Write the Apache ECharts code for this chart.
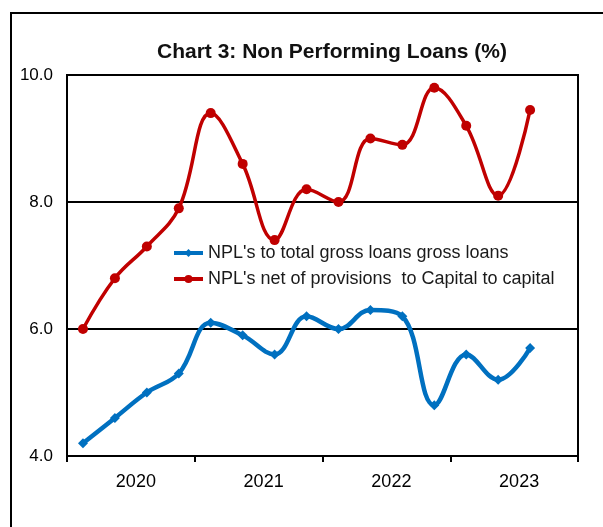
<!DOCTYPE html>
<html>
<head>
<meta charset="utf-8">
<script src="https://cdn.jsdelivr.net/npm/echarts@6/dist/echarts.min.js"></script>
<style>html,body{margin:0;padding:0;background:#fff}#c{width:603px;height:527px}</style>
</head>
<body>
<div id="c"></div>
<script>
var quarters = ['Q4-19','Q1-20','Q2-20','Q3-20','Q4-20','Q1-21','Q2-21','Q3-21','Q4-21','Q1-22','Q2-22','Q3-22','Q4-22','Q1-23','Q2-23','Q3-23'];
var years = ['2020','2021','2022','2023'];
var yTicks = [4, 6, 8, 10];
var grossNPL = [4.2, 4.6, 5.0, 5.3, 6.1, 5.9, 5.6, 6.2, 6.0, 6.3, 6.2, 4.8, 5.6, 5.2, 5.7];
var netNPL = [6.0, 6.8, 7.3, 7.9, 9.4, 8.6, 7.4, 8.2, 8.0, 9.0, 8.9, 9.8, 9.2, 8.1, 9.45];
var seriesNames = ["NPL's to total gross loans gross loans", "NPL's net of provisions  to Capital to capital"];

var chart = echarts.init(document.getElementById('c'), null, {renderer: 'canvas'});
chart.setOption({
  animation: false,
  backgroundColor: '#fff',
  textStyle: {fontFamily: 'Liberation Sans, Arial, sans-serif'},
  title: {
    text: 'Chart 3: Non Performing Loans (%)',
    left: 327, top: 37, textAlign: 'center',
    textStyle: {fontSize: 21, fontWeight: 'bold', color: '#111', fontFamily: 'Liberation Sans, Arial, sans-serif'}
  },
  graphic: [{
    type: 'rect', shape: {x: 11, y: 13, width: 700, height: 600},
    style: {fill: 'none', stroke: '#000', lineWidth: 2}, z: 0
  }],
  legend: {
    orient: 'vertical', left: 167, top: 239,
    itemWidth: 29, itemHeight: 10, itemGap: 8,
    lineStyle: {width: 4},
    textStyle: {fontSize: 18, color: '#1a1a1a'},
    data: seriesNames
  },
  grid: {left: 67, top: 75, right: 25, bottom: 71, show: true, borderColor: '#000', borderWidth: 2, backgroundColor: 'transparent'},
  xAxis: [{
    type: 'category', data: quarters, boundaryGap: true, show: false
  }, {
    type: 'category', data: years, boundaryGap: true, position: 'bottom',
    axisLine: {show: true, lineStyle: {color: '#000', width: 2}},
    axisTick: {show: true, length: 6, interval: 0, lineStyle: {color: '#000', width: 2}},
    axisLabel: {fontSize: 18, color: '#000', margin: 17, padding: [0, 0, 0, 10]}
  }],
  yAxis: {
    type: 'value', min: yTicks[0], max: yTicks[yTicks.length - 1], interval: 2,
    axisLine: {show: true, lineStyle: {color: '#000', width: 2}},
    axisTick: {show: false},
    splitLine: {show: true, lineStyle: {color: '#000', width: 2}},
    axisLabel: {fontSize: 17, color: '#000', margin: 14, formatter: function (v) { return v.toFixed(1); }}
  },
  series: [{
    name: seriesNames[0], type: 'line', xAxisIndex: 0, data: grossNPL,
    smooth: 0.4, symbol: 'diamond', symbolSize: 10,
    lineStyle: {color: '#0070C0', width: 4.5},
    itemStyle: {color: '#0070C0'}
  }, {
    name: seriesNames[1], type: 'line', xAxisIndex: 0, data: netNPL,
    smooth: 0.4, symbol: 'circle', symbolSize: 10,
    lineStyle: {color: '#C00000', width: 3.5},
    itemStyle: {color: '#C00000'}
  }]
});
</script>
</body>
</html>
